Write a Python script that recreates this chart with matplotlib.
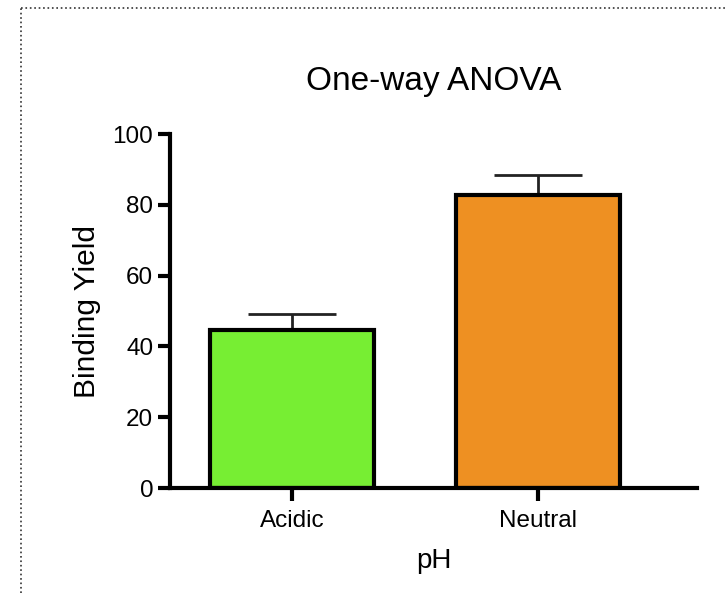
import matplotlib
matplotlib.use('Agg')
import matplotlib.pyplot as plt
from matplotlib.lines import Line2D

plt.rcParams['font.family'] = ['Liberation Sans', 'DejaVu Sans']

# data
categories = ['Acidic', 'Neutral']
means = [44.6, 82.8]
errors = [4.5, 5.6]
colors = ['#77EE33', '#EE9022']

fig = plt.figure(figsize=(7.27, 5.93), dpi=100)
ax = fig.add_axes([0.2338, 0.177, 0.7249, 0.597])

x = list(range(len(categories)))
ax.errorbar(x, means, yerr=[[0] * len(errors), errors], fmt='none',
            ecolor='#222222', elinewidth=2, capsize=32, capthick=2, zorder=1)
ax.bar(x, means, width=0.663, color=colors, edgecolor='black', linewidth=3, zorder=2)

ax.set_xlim(-0.496, 1.646)
ax.set_ylim(0, 100)
ax.set_yticks([0, 20, 40, 60, 80, 100])
ax.set_xticks(x)
ax.set_xticklabels(categories)

for side in ['top', 'right']:
    ax.spines[side].set_visible(False)
for side in ['left', 'bottom']:
    ax.spines[side].set_linewidth(3)
ax.tick_params(axis='both', width=3, length=9, labelsize=17.5, pad=3)
ax.tick_params(axis='x', pad=7)

ax.set_title('One-way ANOVA', fontsize=24, pad=32)
ax.set_ylabel('Binding Yield', fontsize=21.5, labelpad=8)
ax.set_xlabel('pH', fontsize=20, labelpad=11)

# dotted frame around the figure (top and left edges visible)
fig.add_artist(Line2D([21 / 727, 1], [1 - 8 / 593, 1 - 8 / 593], transform=fig.transFigure,
                      color='#333333', linestyle=':', linewidth=1.2))
fig.add_artist(Line2D([21 / 727, 21 / 727], [0, 1 - 8 / 593], transform=fig.transFigure,
                      color='#333333', linestyle=':', linewidth=1.2))

fig.savefig('out.png', dpi=100)
